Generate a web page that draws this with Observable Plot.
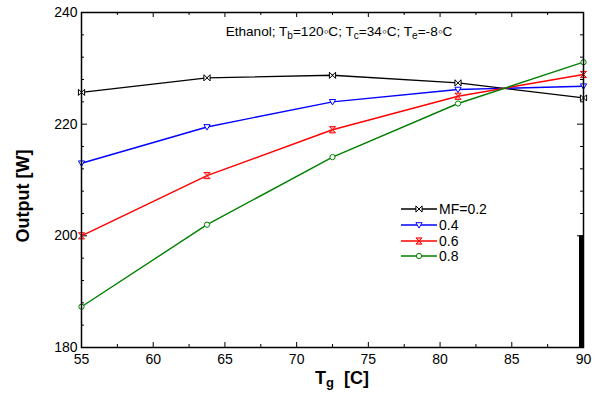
<!DOCTYPE html>
<html><head><meta charset="utf-8">
<script src="https://cdn.jsdelivr.net/npm/d3@7"></script>
<script src="https://cdn.jsdelivr.net/npm/@observablehq/plot@0.6"></script>
<style>
body{margin:0;background:#fff}
svg{font-family:"Liberation Sans",Arial,sans-serif}
</style>
</head><body><div id="chart"></div>
<script>
// ---- data ----
const tg = [55, 63.75, 72.5, 81.25, 90];
const mf02 = [225.7, 228.3, 228.75, 227.4, 224.7];
const mf04 = [213.0, 219.5, 224.0, 226.2, 226.8];
const mf06 = [200.0, 210.8, 219.0, 225.0, 228.9];
const mf08 = [187.3, 202.0, 214.1, 223.7, 231.1];
const seriesNames = ["MF=0.2", "0.4", "0.6", "0.8"];
const seriesValues = [mf02, mf04, mf06, mf08];
const colors = ["#000000", "#0000ff", "#ff0000", "#008000"];
const markerFills = ["#ffffff", "#ffffff", "#ffb0b0", "#ffffff"];
const xTicks = [55, 60, 65, 70, 75, 80, 85, 90];
const xMinor = [57.5, 62.5, 67.5, 72.5, 77.5, 82.5, 87.5];
const yTicks = [180, 200, 220, 240];
const yMinor = [184, 188, 192, 196, 204, 208, 212, 216, 224, 228, 232, 236];
const blockX = [89.72, 90.05];
const blockY = [180, 200];

// ---- symbols ----
const half = s => Math.sqrt(s / Math.PI);
const bowtie = {draw(c, s){const r = half(s); c.moveTo(-r,-r); c.lineTo(r,r); c.lineTo(r,-r); c.lineTo(-r,r); c.closePath();}};
const tri = {draw(c, s){const r = half(s); c.moveTo(-r,-r*0.75); c.lineTo(r,-r*0.75); c.lineTo(0,r); c.closePath();}};
const hourglass = {draw(c, s){const r = half(s); c.moveTo(-r,-r); c.lineTo(r,-r); c.lineTo(-r,r); c.lineTo(r,r); c.closePath();}};
const circ = {draw(c, s){const r = half(s)*0.85; c.moveTo(r,0); c.arc(0,0,r,0,2*Math.PI);}};
const symbols = [bowtie, tri, hourglass, circ];
const markR = 3.1;

const tables = seriesValues.map(vals => tg.map((x, i) => ({x, y: vals[i]})));
const block = [{x1: blockX[0], x2: blockX[1], y1: blockY[0], y2: blockY[1]}];

const frameH = 397 - 12 - 50, frameW = 600 - 81 - 17;
const marks = [
  Plot.axisX(xTicks, {tickSize: 0, tickPadding: 7, fontSize: 14, label: null}),
  Plot.axisY(yTicks, {tickSize: 0, tickPadding: 4, fontSize: 14, label: null}),
  Plot.ruleX(xTicks, {insetTop: frameH - 5, stroke: "#000"}),
  Plot.ruleX(xMinor, {insetTop: frameH - 3, stroke: "#000"}),
  Plot.ruleX(xTicks, {insetBottom: frameH - 5, stroke: "#000"}),
  Plot.ruleX(xMinor, {insetBottom: frameH - 3, stroke: "#000"}),
  Plot.ruleY(yTicks, {insetRight: frameW - 6, stroke: "#000"}),
  Plot.ruleY(yMinor, {insetRight: frameW - 3, stroke: "#000"}),
  Plot.ruleY(yTicks, {insetLeft: frameW - 6, stroke: "#000"}),
  Plot.ruleY(yMinor, {insetLeft: frameW - 3, stroke: "#000"}),
];
tables.forEach((t, i) => {
  marks.push(Plot.line(t, {x: "x", y: "y", stroke: colors[i], strokeWidth: 1.4}));
});
tables.forEach((t, i) => {
  marks.push(Plot.dot(t, {x: "x", y: "y", symbol: symbols[i], r: markR, stroke: colors[i], fill: markerFills[i], strokeWidth: 1}));
});
marks.push(Plot.rect(block, {x1: "x1", x2: "x2", y1: "y1", y2: "y2", fill: "#000"}));
marks.push(Plot.frame({stroke: "#000", strokeWidth: 1.5}));

const plot = Plot.plot({
  width: 600, height: 397,
  marginLeft: 81, marginRight: 17, marginTop: 12, marginBottom: 50,
  x: {domain: [55, 90]},
  y: {domain: [180, 240]},
  style: {background: "#fff", color: "#000", fontFamily: "'Liberation Sans', Arial, sans-serif"},
  marks
});
document.getElementById("chart").appendChild(plot);

// ---- annotations ----
const svg = d3.select(plot);
function richText(g, parts, subSize) {
  parts.forEach(([txt, sub]) => {
    const ts = g.append("tspan").text(txt);
    if (sub) ts.attr("font-size", subSize).attr("baseline-shift", "-25%");
  });
}
const title = svg.append("text").attr("x", 339).attr("y", 36).attr("text-anchor", "middle")
  .attr("font-size", 13.6).attr("fill", "#000");
richText(title, [["Ethanol; T", false], ["b", true], ["=120\u25E6C; T", false], ["c", true],
  ["=34\u25E6C; T", false], ["e", true], ["=-8\u25E6C", false]], 10);

const xl = svg.append("text").attr("x", 315).attr("y", 384).attr("text-anchor", "start").attr("font-size", 18)
  .attr("font-weight", "bold").attr("fill", "#000");
richText(xl, [["T", false], ["g", true], ["\u00A0\u00A0[C]", false]], 13);

svg.append("text").attr("transform", "translate(29,196) rotate(-90)").attr("text-anchor", "middle")
  .attr("font-size", 18).attr("font-weight", "bold").attr("fill", "#000").text("Output [W]");

// ---- legend ----
const legY = [209, 225, 241, 256];
seriesNames.forEach((name, i) => {
  const g = svg.append("g").attr("transform", `translate(0,${legY[i]})`);
  g.append("line").attr("x1", 401).attr("x2", 437).attr("stroke", colors[i]).attr("stroke-width", 1.4);
  g.append("path").attr("transform", "translate(419,0)")
    .attr("d", d3.symbol(symbols[i], Math.PI * markR * markR)())
    .attr("stroke", colors[i]).attr("fill", markerFills[i]).attr("stroke-width", 1);
  g.append("text").attr("x", 439).attr("dy", "0.36em").attr("text-anchor", "start")
    .attr("font-size", 14).attr("fill", "#000").text(name);
});
</script>
</body></html>
